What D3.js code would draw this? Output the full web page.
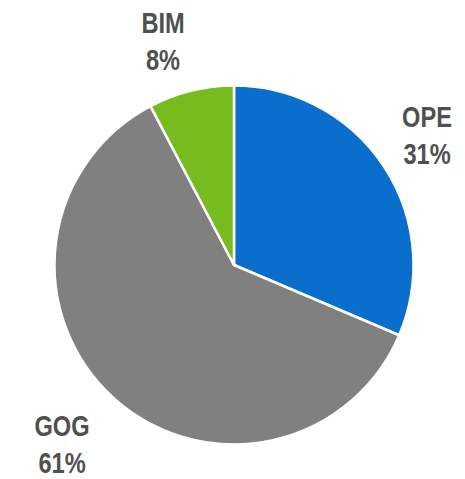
<!DOCTYPE html>
<html><head><meta charset="utf-8">
<script src="https://cdn.jsdelivr.net/npm/d3@7"></script>
<style>body{margin:0;background:#fff}</style>
</head><body>
<svg id="chart" width="465" height="479"></svg>
<script>
const categories = ["OPE", "GOG", "BIM"];
const values = [31.4, 60.9, 7.7];
const labels = ["31%", "61%", "8%"];
const colors = ["#0A6ECD", "#808080", "#77BC1F"];
const labelPos = [[427, 127], [62, 436], [163, 33]];

const svg = d3.select("#chart");
const cx = 234, cy = 265, r = 179.5;
const pie = d3.pie().sort(null).value(d => d)(values);
const arc = d3.arc().innerRadius(0).outerRadius(r);
const g = svg.append("g").attr("transform", `translate(${cx},${cy})`);
g.selectAll("path").data(pie).join("path")
  .attr("d", arc)
  .attr("fill", (d, i) => colors[i])
  .attr("stroke", "#fff").attr("stroke-width", 2.5).attr("stroke-linejoin", "round");

const lg = svg.append("g");
categories.forEach((c, i) => {
  const t = lg.append("text")
    .attr("transform", `translate(${labelPos[i][0]},${labelPos[i][1]}) scale(0.8,1)`)
    .attr("text-anchor", "middle")
    .attr("font-family", "'Liberation Sans', Arial, sans-serif")
    .attr("font-weight", "bold").attr("font-size", 29.5)
    .attr("fill", "#505050");
  t.append("tspan").attr("x", 0).text(c);
  t.append("tspan").attr("x", 0).attr("dy", 37).text(labels[i]);
});
</script>
</body></html>
